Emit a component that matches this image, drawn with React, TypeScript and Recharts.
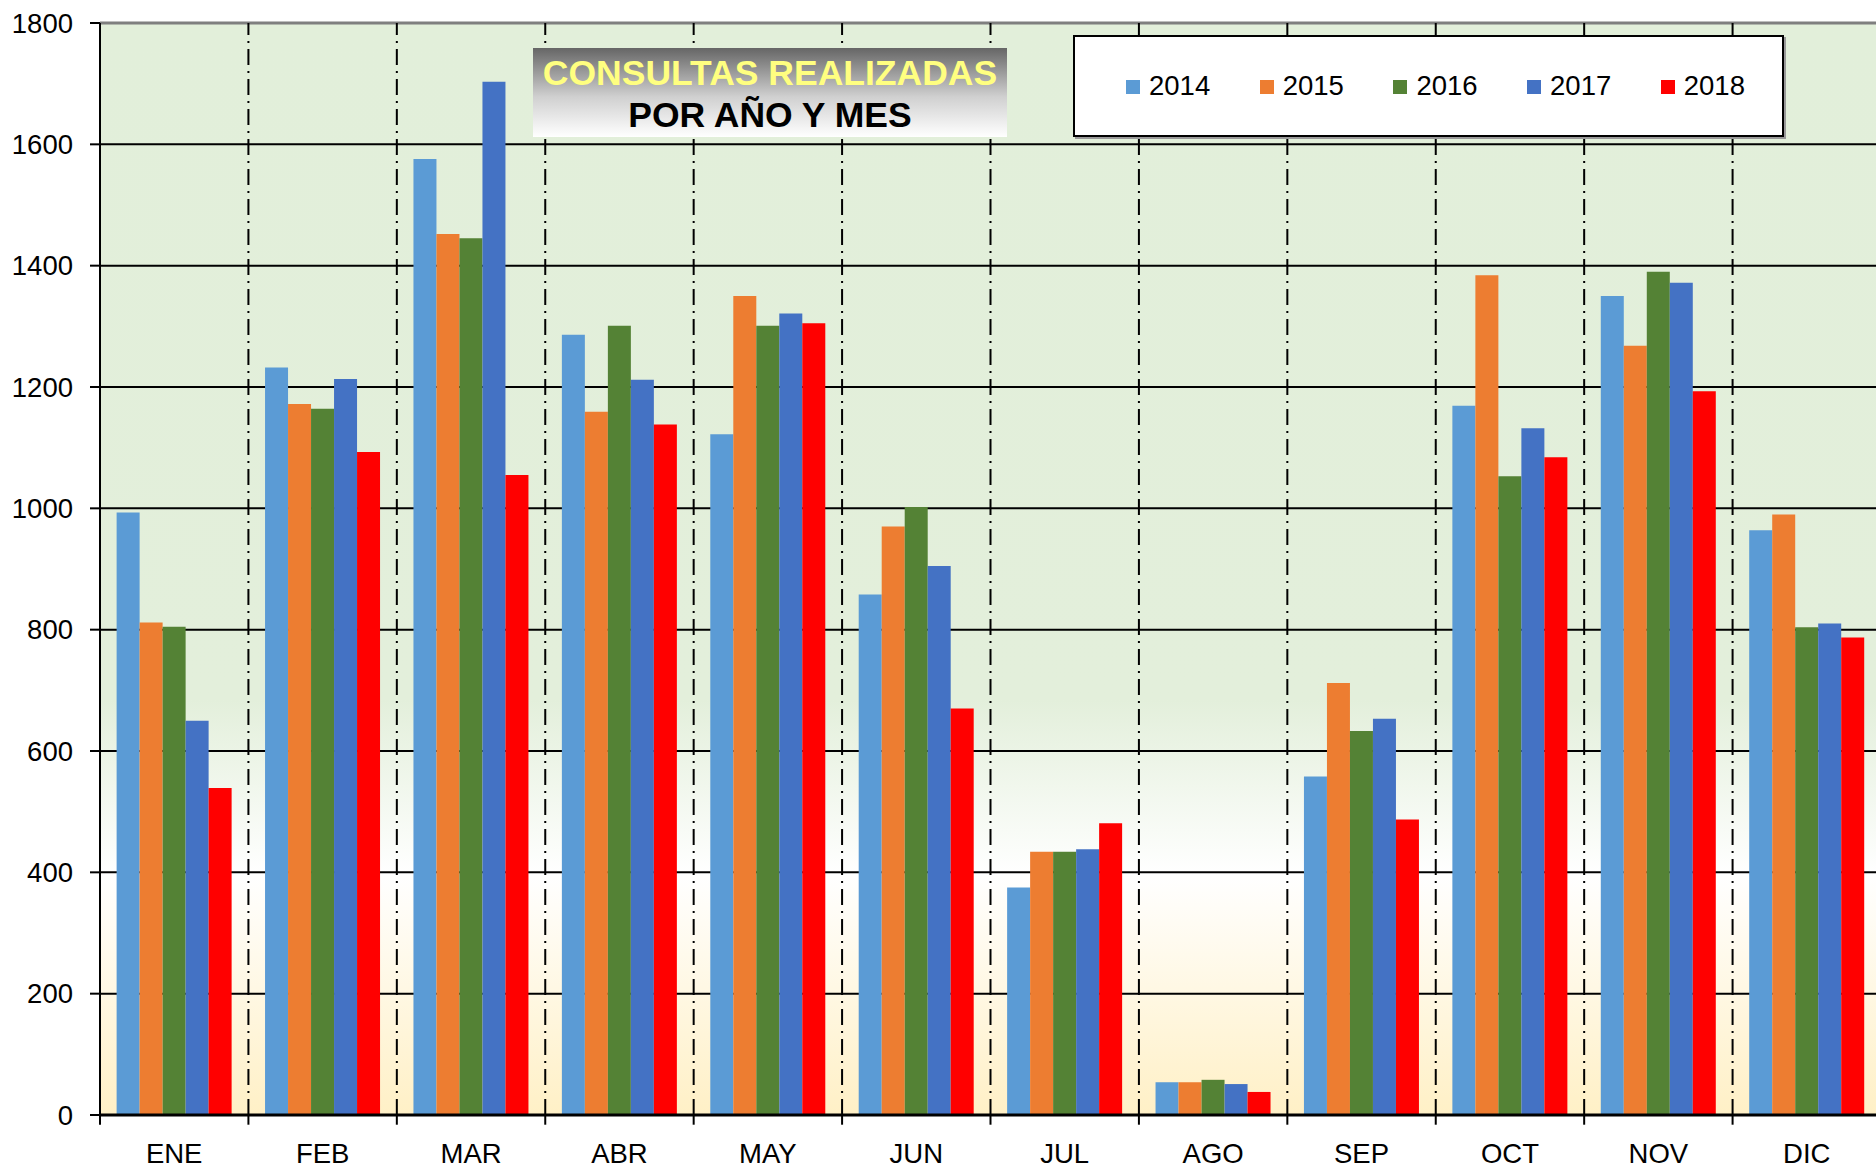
import React from "react";
import {
  BarChart,
  Bar,
  XAxis,
  YAxis,
  CartesianGrid,
  Legend,
  ReferenceLine,
} from "recharts";

// Consultas realizadas por mes, una serie por año
const meses = ["ENE", "FEB", "MAR", "ABR", "MAY", "JUN", "JUL", "AGO", "SEP", "OCT", "NOV", "DIC"];
const c2014 = [993, 1232, 1576, 1286, 1122, 858, 375, 54, 558, 1169, 1350, 964];
const c2015 = [812, 1172, 1452, 1159, 1350, 970, 434, 54, 712, 1384, 1268, 990];
const c2016 = [805, 1164, 1445, 1301, 1301, 1002, 434, 58, 633, 1053, 1390, 804];
const c2017 = [650, 1213, 1703, 1212, 1321, 905, 438, 51, 653, 1132, 1372, 810];
const c2018 = [539, 1093, 1055, 1138, 1305, 670, 481, 38, 487, 1084, 1193, 787];
const yTicks = [0, 200, 400, 600, 800, 1000, 1200, 1400, 1600, 1800];

const series = [
  { key: "2014", values: c2014, color: "#5B9BD5" },
  { key: "2015", values: c2015, color: "#ED7D31" },
  { key: "2016", values: c2016, color: "#548235" },
  { key: "2017", values: c2017, color: "#4472C4" },
  { key: "2018", values: c2018, color: "#FF0000" },
];

// pos = centro de cada mes en un eje numérico 0..12 (para los separadores)
const data = meses.map((mes, i) => {
  const row: Record<string, string | number> = { mes, pos: i + 0.5 };
  series.forEach((s) => (row[s.key] = s.values[i]));
  return row;
});

const bordes = meses.map((_, i) => i + 1).slice(0, 11);
const marcas = [0, ...bordes, 12];

const FONT = "'Liberation Sans', Arial, sans-serif";

const LegendBox = ({ payload }: any) => (
  <div
    style={{
      width: 711,
      height: 102,
      boxSizing: "border-box",
      border: "2px solid #000",
      boxShadow: "2px 2px 0 #9a9a9a",
      background: "#fff",
      display: "flex",
      alignItems: "center",
      paddingLeft: 51,
      overflow: "hidden",
      fontFamily: FONT,
      fontSize: 27.5,
      color: "#000",
    }}
  >
    {(payload || []).map((item: any) => (
      <div
        key={item.value}
        style={{ width: 133.7, flexShrink: 0, display: "flex", alignItems: "center" }}
      >
        <span style={{ width: 14, height: 14, background: item.color, marginRight: 9, marginTop: 2 }} />
        <span>{item.value}</span>
      </div>
    ))}
  </div>
);

export default function App() {
  return (
    <div
      style={{
        position: "absolute",
        left: 0,
        top: 0,
        width: 1876,
        height: 1170,
        overflow: "hidden",
        background: "#fff",
        fontFamily: FONT,
      }}
    >
      <BarChart
        width={1881}
        height={1170}
        data={data}
        margin={{ top: 23, right: 0, left: 0, bottom: 0 }}
        barCategoryGap="11.2%"
        barGap={0}
      >
        <defs>
          <linearGradient id="fondo" x1="0" y1="0" x2="0" y2="1">
            <stop offset="0%" stopColor="#E2EFDA" />
            <stop offset="62%" stopColor="#E3EFDB" />
            <stop offset="78%" stopColor="#FFFFFF" />
            <stop offset="100%" stopColor="#FFF0C6" />
          </linearGradient>
        </defs>
        <CartesianGrid vertical={false} stroke="#000" strokeWidth={2} fill="url(#fondo)" fillOpacity={1} />
        <XAxis
          dataKey="mes"
          height={55}
          interval={0}
          axisLine={{ stroke: "#000", strokeWidth: 3 }}
          tickLine={false}
          tickSize={0}
          tickMargin={28}
          tick={{ fill: "#000", fontSize: 27.5, fontFamily: FONT }}
        />
        <XAxis
          xAxisId="b"
          dataKey="pos"
          type="number"
          domain={[0, 12]}
          allowDataOverflow
          hide
        />
        <YAxis
          domain={[0, 1800]}
          ticks={yTicks}
          interval={0}
          width={100}
          allowDataOverflow
          axisLine={{ stroke: "#000", strokeWidth: 2 }}
          tickLine={{ stroke: "#000", strokeWidth: 2 }}
          tickSize={10}
          tickMargin={17}
          tick={{ fill: "#000", fontSize: 27.5, fontFamily: FONT }}
        />
        <ReferenceLine y={1800} stroke="#7F7F7F" strokeWidth={3} />
        {bordes.map((b) => (
          <ReferenceLine
            key={"d" + b}
            xAxisId="b"
            x={b}
            stroke="#000"
            strokeWidth={2}
            strokeDasharray="16 6 2 6"
          />
        ))}
        {marcas.map((b) => (
          <ReferenceLine
            key={"t" + b}
            xAxisId="b"
            segment={[
              { x: b, y: 0 },
              { x: b, y: -16 },
            ]}
            ifOverflow="visible"
            stroke="#000"
            strokeWidth={2}
          />
        ))}
        <Legend
          layout="horizontal"
          verticalAlign="middle"
          align="center"
          content={<LegendBox />}
          wrapperStyle={{ position: "absolute", left: 1073, top: 35, width: 711, height: 102 }}
        />
        {series.map((s) => (
          <Bar key={s.key} dataKey={s.key} name={s.key} fill={s.color} isAnimationActive={false} />
        ))}
      </BarChart>

      <div
        style={{
          position: "absolute",
          left: 533,
          top: 48,
          width: 474,
          height: 89,
          boxSizing: "border-box",
          paddingTop: 4,
          background: "linear-gradient(to bottom, #666666 0%, #d0d0d0 55%, #ffffff 100%)",
          textAlign: "center",
          fontWeight: "bold",
          fontSize: 35.5,
          lineHeight: "42px",
          fontFamily: FONT,
        }}
      >
        <div style={{ color: "#FFFF80" }}>CONSULTAS REALIZADAS</div>
        <div style={{ color: "#000" }}>POR AÑO Y MES</div>
      </div>
    </div>
  );
}
